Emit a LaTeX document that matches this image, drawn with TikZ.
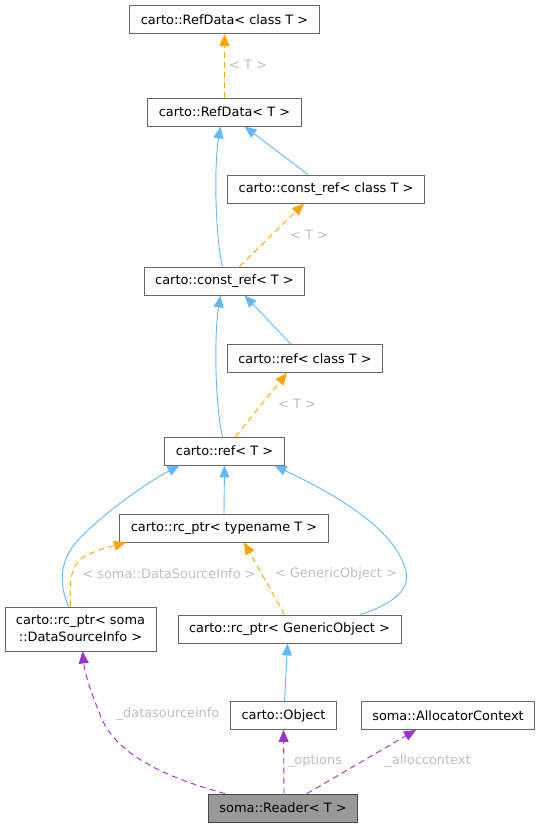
\documentclass[tikz,border=0pt]{standalone}
\usepackage{fontspec}
\setmainfont{DejaVu Sans}
\usepackage{tikz}
\usetikzlibrary{arrows.meta,calc,positioning}
\definecolor{edgeblue}{HTML}{63B8FF}
\definecolor{edgeorange}{HTML}{FFA500}
\definecolor{edgepurple}{HTML}{9A32CD}
\definecolor{labelgrey}{HTML}{BEBEBE}
\definecolor{boxgrey}{HTML}{666666}
\definecolor{readerfill}{HTML}{999999}
\tikzset{
  classbox/.style={draw=boxgrey, fill=white, line width=0.9pt, inner xsep=11pt,
    minimum height=28pt, align=center, font=\fontsize{12.9}{17}\selectfont},
  tip/.style={-{Triangle[length=12pt,width=10pt]}},
  inherit/.style={tip, draw=edgeblue, line width=0.9pt},
  templ/.style={tip, draw=edgeorange, line width=0.9pt, dash pattern=on 6pt off 4pt},
  member/.style={tip, draw=edgepurple, line width=0.9pt, dash pattern=on 6pt off 4pt},
  elabel/.style={text=labelgrey, font=\fontsize{12.9}{17}\selectfont}
}

\begin{document}
\begin{tikzpicture}[x=1pt, y=-1pt]
  \useasboundingbox (0,0) rectangle (540,827);
  % classes
  \node[classbox] (refdataC) at (224.5,19.5) {carto::RefData< class T >};
  \node[classbox] (refdata) at (224.5,112) {carto::RefData< T >};
  \node[classbox] (constrefC) at (326,189) {carto::const\_ref< class T >};
  \node[classbox] (constref) at (224.5,281) {carto::const\_ref< T >};
  \node[classbox] (refC) at (305,358.5) {carto::ref< class T >};
  \node[classbox] (ref) at (224.5,451) {carto::ref< T >};
  \node[classbox] (rcptrT) at (224,528) {carto::rc\_ptr< typename T >};
  \node[classbox, minimum height=44pt] (rcDSI) at (80.5,629) {carto::rc\_ptr< soma\\::DataSourceInfo >};
  \node[classbox] (rcGO) at (289.5,629) {carto::rc\_ptr< GenericObject >};
  \node[classbox] (object) at (283.5,715.5) {carto::Object};
  \node[classbox] (alloc) at (448,715.5) {soma::AllocatorContext};
  \node[classbox, fill=readerfill, draw=boxgrey!70!black] (reader) at (283,808) {soma::Reader< T >};

  % template instances
  \draw[templ] (refdata.north) -- (refdataC.south);
  \node[elabel] (lT1) at (248,65) {< T >};
  \draw[templ] ([xshift=15pt]constref.north) -- ([xshift=-22pt]constrefC.south);
  \node[elabel] (lT2) at (309,235) {< T >};
  \draw[templ] ([xshift=11pt]ref.north) -- ([xshift=-18pt]refC.south);
  \node[elabel] (lT3) at (297,404) {< T >};
  \draw[templ] ([xshift=-10pt]rcDSI.north) .. controls (70,588) and (68,566) .. (85,556)
    .. controls (96,550) and (110,547) .. ([xshift=-98pt]rcptrT.south);
  \node[elabel] (lDSI) at (169,574) {< soma::DataSourceInfo >};
  \draw[templ] ([xshift=-5pt]rcGO.north) -- ([xshift=20pt]rcptrT.south);
  \node[elabel] (lGO) at (336,574) {< GenericObject >};

  % inheritance
  \draw[inherit] ([xshift=-2pt]constref.north) .. controls (215,235) and (214,165) .. ([xshift=-4pt]refdata.south);
  \draw[inherit] ([xshift=-18pt]constrefC.north) -- ([xshift=20pt]refdata.south);
  \draw[inherit] ([xshift=-2pt]ref.north) .. controls (215,405) and (214,335) .. ([xshift=-4pt]constref.south);
  \draw[inherit] ([xshift=-14pt]refC.north) -- ([xshift=20pt]constref.south);
  \draw[inherit] (rcptrT.north) -- (ref.south);
  \draw[inherit] ([xshift=-12pt]rcDSI.north) .. controls (58,582) and (60,558) .. (80,538)
    .. controls (105,512) and (148,482) .. ([xshift=-45pt]ref.south);
  \draw[inherit] ([xshift=71pt]rcGO.north) .. controls (395,603) and (414,588) .. (404,565)
    .. controls (390,525) and (330,492) .. ([xshift=50pt]ref.south);
  \draw[inherit] ([xshift=1pt]object.north) -- ([xshift=-2pt]rcGO.south);

  % members
  \draw[member] ([xshift=-58pt]reader.north) .. controls (160,776) and (115,752) .. (101,717)
    .. controls (92,695) and (85,675) .. ([xshift=2pt]rcDSI.south);
  \node[elabel] (lds) at (168,714) {\_datasourceinfo};
  \draw[member] ([xshift=1pt]reader.north) -- (object.south);
  \node[elabel] (lopt) at (315,761) {\_options};
  \draw[member] ([xshift=24pt]reader.north) -- ([xshift=-32pt]alloc.south);
  \node[elabel] (lalloc) at (428,761) {\_alloccontext};
\end{tikzpicture}
\end{document}
